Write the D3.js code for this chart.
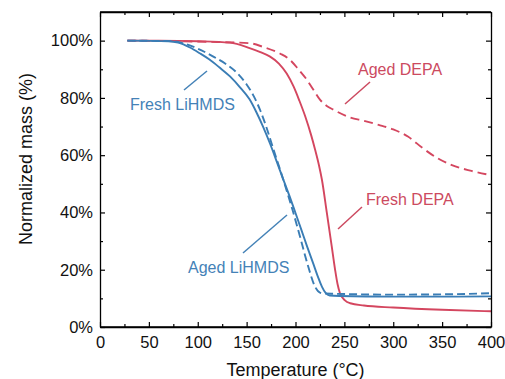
<!DOCTYPE html>
<html>
<head>
<meta charset="utf-8">
<script src="https://cdn.jsdelivr.net/npm/d3@7"></script>
<style>
  body { margin: 0; background: #fff; }
  text { font-family: "Liberation Sans", Arial, sans-serif; }
</style>
</head>
<body>
<svg id="chart" width="505" height="379"></svg>
<script>
// TGA curves: [temperature (°C), normalized mass (%)]
var freshDEPA = [[28,100],[60,100],[100,99.8],[133,99.3],[153,97.4],[164,96],[174,94.4],[183,92],
  [191,88.5],[198,84],[204,79],[210,73.5],[216,67],[220,62],[224,56.5],[227,51.5],[232,40],
  [237,28.3],[240.5,20],[243,15],[245.5,11.8],[250.6,9.3],[256,8.3],[270,7.5],[300,6.8],[350,6],[400,5.5]];
var agedDEPA = [[28,100],[80,99.8],[120,99.5],[153,99.1],[167,97.8],[184,95.5],[194,93.4],[203,90],
  [211.5,86.4],[218,83],[225,79.4],[232,77.2],[238.7,75.9],[255.8,73.2],[270,72],[285,70.6],[300,69],
  [315,66.5],[330,62.5],[345,59],[360,56.5],[380,54.5],[400,53]];
var freshLiHMDS = [[28,100],[70,99.8],[80,99.3],[92,97.6],[102,95.6],[112,93.4],[122,90.7],[133,87.5],
  [143,83.8],[153,79.5],[160,75],[167,69.8],[174,64],[181,57.6],[187,52],[194,45.6],[200,39.8],
  [206,33.9],[212,28],[218,22.3],[223,17.5],[227,14.1],[231,11.8],[235,11],[245,10.8],[300,10.6],
  [350,10.6],[400,10.7]];
var agedLiHMDS = [[28,100],[75,99.8],[85,99.1],[100,97.2],[115,94.6],[128,92],[140,88.8],[150,84.7],
  [157,80.8],[164,75.6],[170.5,69.5],[177,62.5],[184,55.2],[190,48.7],[196,42],[204.6,31.6],[213,21.1],
  [220,14.1],[225,12],[230,11.7],[240,11.6],[300,11.3],[350,11.4],[400,11.8]];

var xTicks = [0, 50, 100, 150, 200, 250, 300, 350, 400];
var yTicks = [0, 20, 40, 60, 80, 100];

var red = "#d4465f", blue = "#3a7db5";
var redText = "#cc4a60", blueText = "#4482b7";

var svg = d3.select("#chart");
var pLeft = 100, pRight = 491, pTop = 12, pBottom = 327;

var x = d3.scaleLinear().domain([0, 400]).range([pLeft, pRight]);
var y = d3.scaleLinear().domain([0, 110]).range([pBottom, pTop]);

var line = d3.line()
  .x(function(d) { return x(d[0]); })
  .y(function(d) { return y(d[1]); })
  .curve(d3.curveMonotoneX);

// curves
svg.append("path").datum(agedDEPA).attr("d", line)
  .attr("fill", "none").attr("stroke", red).attr("stroke-width", 1.9).attr("stroke-dasharray", "9,5");
svg.append("path").datum(freshDEPA).attr("d", line)
  .attr("fill", "none").attr("stroke", red).attr("stroke-width", 1.9);
svg.append("path").datum(agedLiHMDS).attr("d", line)
  .attr("fill", "none").attr("stroke", blue).attr("stroke-width", 1.9).attr("stroke-dasharray", "8,4");
svg.append("path").datum(freshLiHMDS).attr("d", line)
  .attr("fill", "none").attr("stroke", blue).attr("stroke-width", 1.9);

// axes, ticks inside on all four sides
var minorX = d3.range(25, 400, 50), minorY = d3.range(10, 110, 20);

function drawAxis(axis, tr) {
  var g = svg.append("g").attr("transform", tr).call(axis);
  g.select(".domain").attr("stroke", "#000").attr("stroke-width", 1.3);
  g.selectAll(".tick line").attr("stroke", "#000").attr("stroke-width", 1.2);
  g.selectAll("text").attr("fill", "#111").style("font-size", "16.5px");
  return g;
}

drawAxis(d3.axisBottom(x).tickValues(xTicks).tickSizeInner(-5).tickSizeOuter(0).tickPadding(9)
  .tickFormat(d3.format("d")), "translate(0," + pBottom + ")");
drawAxis(d3.axisBottom(x).tickValues(minorX).tickSizeInner(-3).tickSizeOuter(0).tickFormat(""),
  "translate(0," + pBottom + ")").select(".domain").remove();
drawAxis(d3.axisTop(x).tickValues(xTicks).tickSizeInner(-5).tickSizeOuter(0).tickFormat(""),
  "translate(0," + pTop + ")");
drawAxis(d3.axisTop(x).tickValues(minorX).tickSizeInner(-3).tickSizeOuter(0).tickFormat(""),
  "translate(0," + pTop + ")").select(".domain").remove();

drawAxis(d3.axisLeft(y).tickValues(yTicks).tickSizeInner(-5).tickSizeOuter(0).tickPadding(7)
  .tickFormat(function(d) { return d + "%"; }), "translate(" + pLeft + ",0)");
drawAxis(d3.axisLeft(y).tickValues(minorY).tickSizeInner(-3).tickSizeOuter(0).tickFormat(""),
  "translate(" + pLeft + ",0)").select(".domain").remove();
drawAxis(d3.axisRight(y).tickValues(yTicks).tickSizeInner(-5).tickSizeOuter(0).tickFormat(""),
  "translate(" + pRight + ",0)");
drawAxis(d3.axisRight(y).tickValues(minorY).tickSizeInner(-3).tickSizeOuter(0).tickFormat(""),
  "translate(" + pRight + ",0)").select(".domain").remove();

// close the frame
svg.append("line").attr("x1", pLeft).attr("x2", pRight).attr("y1", pTop).attr("y2", pTop)
  .attr("stroke", "#000").attr("stroke-width", 1.3);
svg.append("line").attr("x1", pLeft).attr("x2", pRight).attr("y1", pBottom).attr("y2", pBottom)
  .attr("stroke", "#000").attr("stroke-width", 1.3);

// axis titles
svg.append("text").attr("x", (pLeft + pRight) / 2).attr("y", 376)
  .attr("text-anchor", "middle").attr("fill", "#111").style("font-size", "18px")
  .text("Temperature (°C)");
svg.append("text").attr("transform", "translate(32,159) rotate(-90)")
  .attr("text-anchor", "middle").attr("fill", "#111").style("font-size", "18px")
  .text("Normalized mass (%)");

// callout labels
var notes = [
  { t: "Fresh LiHMDS", tx: 130, ty: 110, c: blueText, lx1: 184, ly1: 90, lx2: 207, ly2: 71 },
  { t: "Aged LiHMDS", tx: 188, ty: 273, c: blueText, lx1: 243, ly1: 253, lx2: 287, ly2: 215 },
  { t: "Fresh DEPA", tx: 366, ty: 205, c: redText, lx1: 338, ly1: 229, lx2: 362, ly2: 207 },
  { t: "Aged DEPA", tx: 358, ty: 75, c: redText, lx1: 345, ly1: 104, lx2: 370, ly2: 82 }
];
notes.forEach(function(n) {
  svg.append("line").attr("x1", n.lx1).attr("y1", n.ly1).attr("x2", n.lx2).attr("y2", n.ly2)
    .attr("stroke", n.c).attr("stroke-width", 1.5);
  svg.append("text").attr("x", n.tx).attr("y", n.ty).attr("fill", n.c)
    .style("font-size", "16px").text(n.t);
});
</script>
</body>
</html>
